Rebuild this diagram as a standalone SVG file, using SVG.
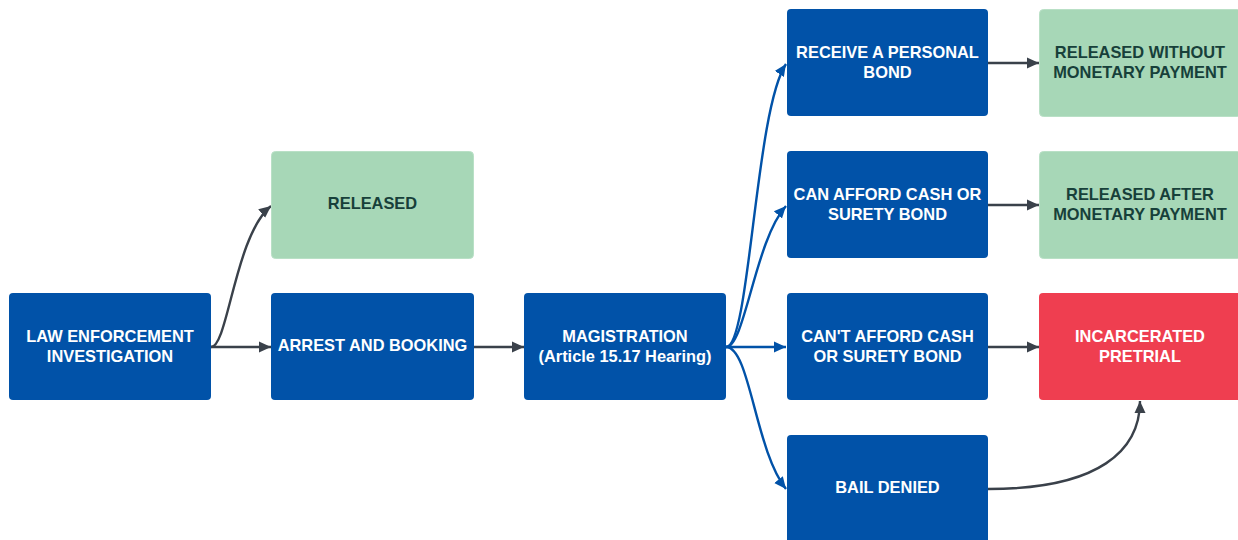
<svg xmlns="http://www.w3.org/2000/svg" width="1238" height="540" viewBox="0 0 1238 540">
<style>
.b{fill:#0152A8}
.g{fill:#A7D7B7;stroke:#B9E0C6;stroke-width:1}
.r{fill:#EF3E50}
text{font-family:"Liberation Sans",Arial,sans-serif;font-weight:bold;font-size:16.4px;text-anchor:middle}
.w{fill:#FFFFFF}
.d{fill:#17403A}
.cd{fill:none;stroke:#3A414A;stroke-width:2.4}
.cb{fill:none;stroke:#0152A8;stroke-width:2.4}
</style>
<defs>
<marker id="ad" markerUnits="userSpaceOnUse" markerWidth="13" markerHeight="13" viewBox="0 0 13 13" refX="12" refY="6.5" orient="auto"><path d="M0,1 L12,6.5 L0,12 z" fill="#3A414A"/></marker>
<marker id="ab" markerUnits="userSpaceOnUse" markerWidth="13" markerHeight="13" viewBox="0 0 13 13" refX="12" refY="6.5" orient="auto"><path d="M0,1 L12,6.5 L0,12 z" fill="#0152A8"/></marker>
</defs>
<g id="connectors">
<path class="cd" marker-end="url(#ad)" d="M211,347 L271,347"/>
<path class="cd" marker-end="url(#ad)" d="M211,347 C228,347 235,235 271,206"/>
<path class="cd" marker-end="url(#ad)" d="M474,347 L524,347"/>
<path class="cb" marker-end="url(#ab)" d="M726,347 C750,347 755,110 786,64"/>
<path class="cb" marker-end="url(#ab)" d="M726,347 C745,347 755,240 786,206"/>
<path class="cb" marker-end="url(#ab)" d="M726,347 L786,347"/>
<path class="cb" marker-end="url(#ab)" d="M726,347 C750,347 755,450 786,489"/>
<path class="cd" marker-end="url(#ad)" d="M988,63 L1039,63"/>
<path class="cd" marker-end="url(#ad)" d="M988,205 L1039,205"/>
<path class="cd" marker-end="url(#ad)" d="M988,347 L1039,347"/>
<path class="cd" marker-end="url(#ad)" d="M988,489 C1100,489 1140,450 1140,401"/>
</g>
<g id="law">
<rect class="b" x="9" y="293" width="202" height="107" rx="4"/>
<text class="w" x="110" y="341.5">LAW ENFORCEMENT</text>
<text class="w" x="110" y="361.5">INVESTIGATION</text>
</g>
<g id="released">
<rect class="g" x="271.5" y="151.5" width="202" height="107" rx="4"/>
<text class="d" x="372.5" y="209">RELEASED</text>
</g>
<g id="arrest">
<rect class="b" x="271" y="293" width="203" height="107" rx="4"/>
<text class="w" x="372.5" y="351">ARREST AND BOOKING</text>
</g>
<g id="magistration">
<rect class="b" x="524" y="293" width="202" height="107" rx="4"/>
<text class="w" x="625" y="341.5">MAGISTRATION</text>
<text class="w" x="625" y="361.5">(Article 15.17 Hearing)</text>
</g>
<g id="personal">
<rect class="b" x="787" y="9" width="201" height="107" rx="4"/>
<text class="w" x="887.5" y="57.5">RECEIVE A PERSONAL</text>
<text class="w" x="887.5" y="77.5">BOND</text>
</g>
<g id="afford">
<rect class="b" x="787" y="151" width="201" height="107" rx="4"/>
<text class="w" x="887.5" y="199.5">CAN AFFORD CASH OR</text>
<text class="w" x="887.5" y="219.5">SURETY BOND</text>
</g>
<g id="cantafford">
<rect class="b" x="787" y="293" width="201" height="107" rx="4"/>
<text class="w" x="887.5" y="341.5">CAN'T AFFORD CASH</text>
<text class="w" x="887.5" y="361.5">OR SURETY BOND</text>
</g>
<g id="denied">
<rect class="b" x="787" y="435" width="201" height="110" rx="4"/>
<text class="w" x="887.5" y="493">BAIL DENIED</text>
</g>
<g id="without">
<rect class="g" x="1039.5" y="9.5" width="202" height="107" rx="4"/>
<text class="d" x="1140" y="57.5">RELEASED WITHOUT</text>
<text class="d" x="1140" y="77.5">MONETARY PAYMENT</text>
</g>
<g id="after">
<rect class="g" x="1039.5" y="151.5" width="202" height="107" rx="4"/>
<text class="d" x="1140" y="199.5">RELEASED AFTER</text>
<text class="d" x="1140" y="219.5">MONETARY PAYMENT</text>
</g>
<g id="incarcerated">
<rect class="r" x="1039" y="293" width="202" height="107" rx="4"/>
<text class="w" x="1140" y="341.5">INCARCERATED</text>
<text class="w" x="1140" y="361.5">PRETRIAL</text>
</g>
</svg>
